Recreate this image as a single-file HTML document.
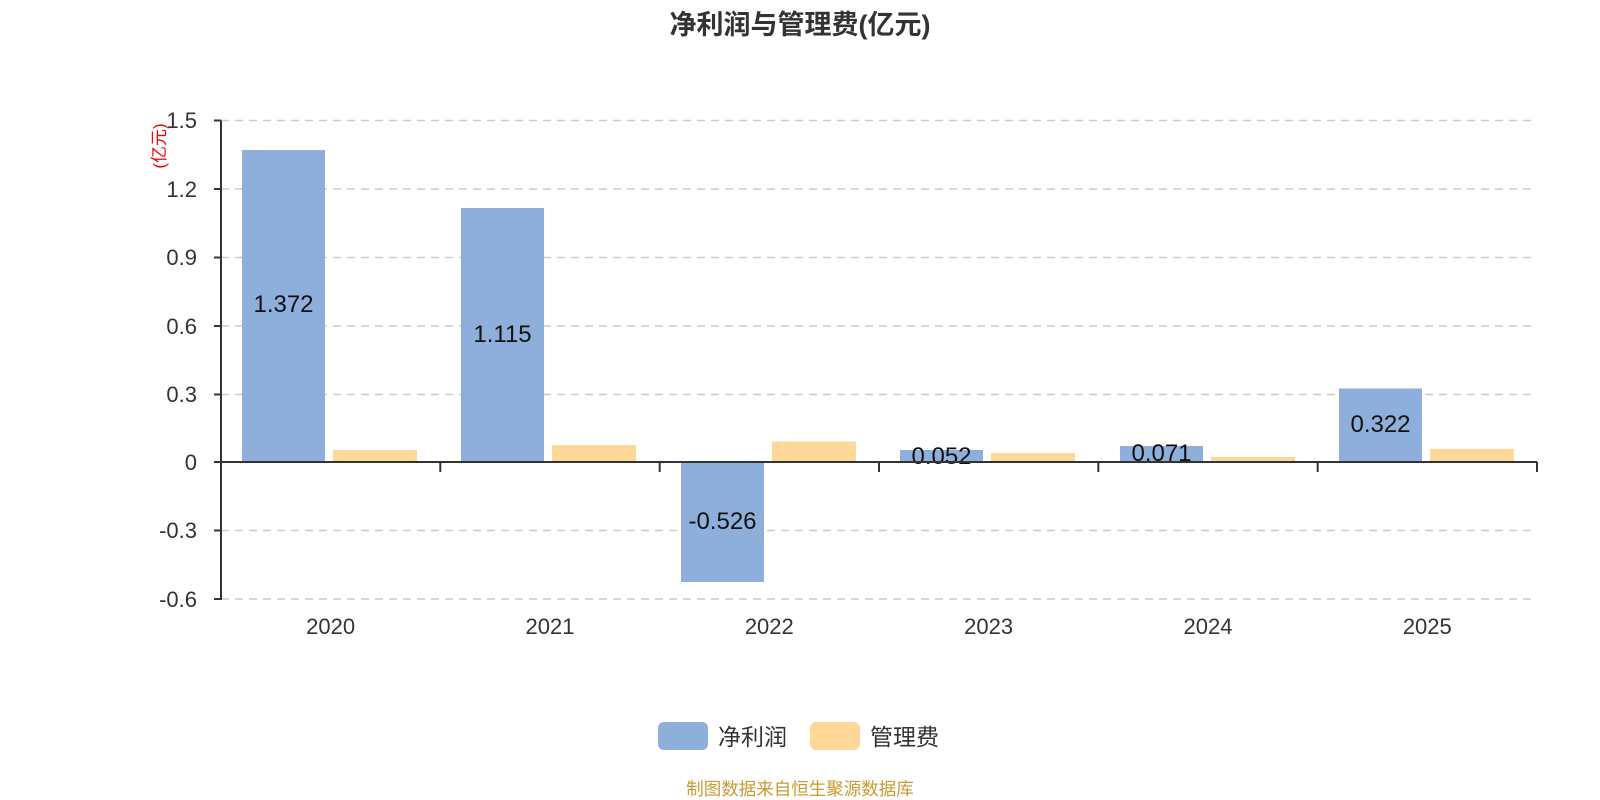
<!DOCTYPE html>
<html><head><meta charset="utf-8"><style>
body{margin:0;background:#fff;}
svg{display:block;font-family:"Liberation Sans","Noto Sans CJK SC",sans-serif;}
</style></head><body>
<svg width="1600" height="800" viewBox="0 0 1600 800">
<text x="800" y="34" text-anchor="middle" font-size="27" font-weight="bold" fill="#333">净利润与管理费(亿元)</text>
<g stroke="#ccc" stroke-width="1.5" stroke-dasharray="8,6">
<line x1="221" y1="120.5" x2="1537" y2="120.5"/>
<line x1="221" y1="189" x2="1537" y2="189"/>
<line x1="221" y1="257.5" x2="1537" y2="257.5"/>
<line x1="221" y1="326" x2="1537" y2="326"/>
<line x1="221" y1="394.5" x2="1537" y2="394.5"/>
<line x1="221" y1="530.5" x2="1537" y2="530.5"/>
<line x1="221" y1="599" x2="1537" y2="599"/>
</g>
<g font-size="22" fill="#333" text-anchor="end">
<text x="197" y="128">1.5</text>
<text x="197" y="197">1.2</text>
<text x="197" y="265">0.9</text>
<text x="197" y="334">0.6</text>
<text x="197" y="402">0.3</text>
<text x="197" y="470">0</text>
<text x="197" y="538">-0.3</text>
<text x="197" y="607">-0.6</text>
</g>
<text transform="translate(165,146) rotate(-90)" text-anchor="middle" font-size="17" fill="#f00">(亿元)</text>
<g fill="#8eaedb">
<rect x="242" y="150" width="83" height="312"/>
<rect x="461" y="208" width="83" height="254"/>
<rect x="681" y="462" width="83" height="120"/>
<rect x="900" y="450" width="83" height="12"/>
<rect x="1120" y="446" width="83" height="16"/>
<rect x="1339" y="388.5" width="83" height="73.5"/>
</g>
<g fill="#fed899">
<rect x="333" y="450" width="84" height="12"/>
<rect x="552" y="445" width="84" height="17"/>
<rect x="772" y="441.5" width="84" height="20.5"/>
<rect x="991" y="453" width="84" height="9"/>
<rect x="1211" y="457" width="84" height="5"/>
<rect x="1430" y="449" width="84" height="13"/>
</g>
<g font-size="24" fill="#111" text-anchor="middle">
<text x="283.5" y="312">1.372</text>
<text x="502.5" y="342">1.115</text>
<text x="722.5" y="529">-0.526</text>
<text x="941.5" y="464">0.052</text>
<text x="1161.5" y="461">0.071</text>
<text x="1380.5" y="432">0.322</text>
</g>
<g stroke="#333" stroke-width="2" fill="none">
<line x1="221" y1="120.5" x2="221" y2="600"/>
<line x1="221" y1="462" x2="1537" y2="462"/>
<line x1="214" y1="120.5" x2="221" y2="120.5"/>
<line x1="214" y1="189" x2="221" y2="189"/>
<line x1="214" y1="257.5" x2="221" y2="257.5"/>
<line x1="214" y1="326" x2="221" y2="326"/>
<line x1="214" y1="394.5" x2="221" y2="394.5"/>
<line x1="214" y1="462" x2="221" y2="462"/>
<line x1="214" y1="530.5" x2="221" y2="530.5"/>
<line x1="214" y1="599" x2="221" y2="599"/>
<line x1="440.3" y1="462" x2="440.3" y2="472"/>
<line x1="659.7" y1="462" x2="659.7" y2="472"/>
<line x1="879" y1="462" x2="879" y2="472"/>
<line x1="1098.3" y1="462" x2="1098.3" y2="472"/>
<line x1="1317.7" y1="462" x2="1317.7" y2="472"/>
<line x1="1537" y1="462" x2="1537" y2="472"/>
</g>
<g font-size="22" fill="#333" text-anchor="middle">
<text x="330.6" y="634">2020</text>
<text x="550" y="634">2021</text>
<text x="769.3" y="634">2022</text>
<text x="988.6" y="634">2023</text>
<text x="1208" y="634">2024</text>
<text x="1427.3" y="634">2025</text>
</g>
<rect x="658" y="722" width="50" height="28" rx="6" fill="#8eaedb"/>
<text x="718" y="745" font-size="23" fill="#333">净利润</text>
<rect x="810" y="722" width="50" height="28" rx="6" fill="#fed899"/>
<text x="870" y="745" font-size="23" fill="#333">管理费</text>
<text x="800" y="795" text-anchor="middle" font-size="17.5" fill="#cc9933">制图数据来自恒生聚源数据库</text>
</svg>
</body></html>
